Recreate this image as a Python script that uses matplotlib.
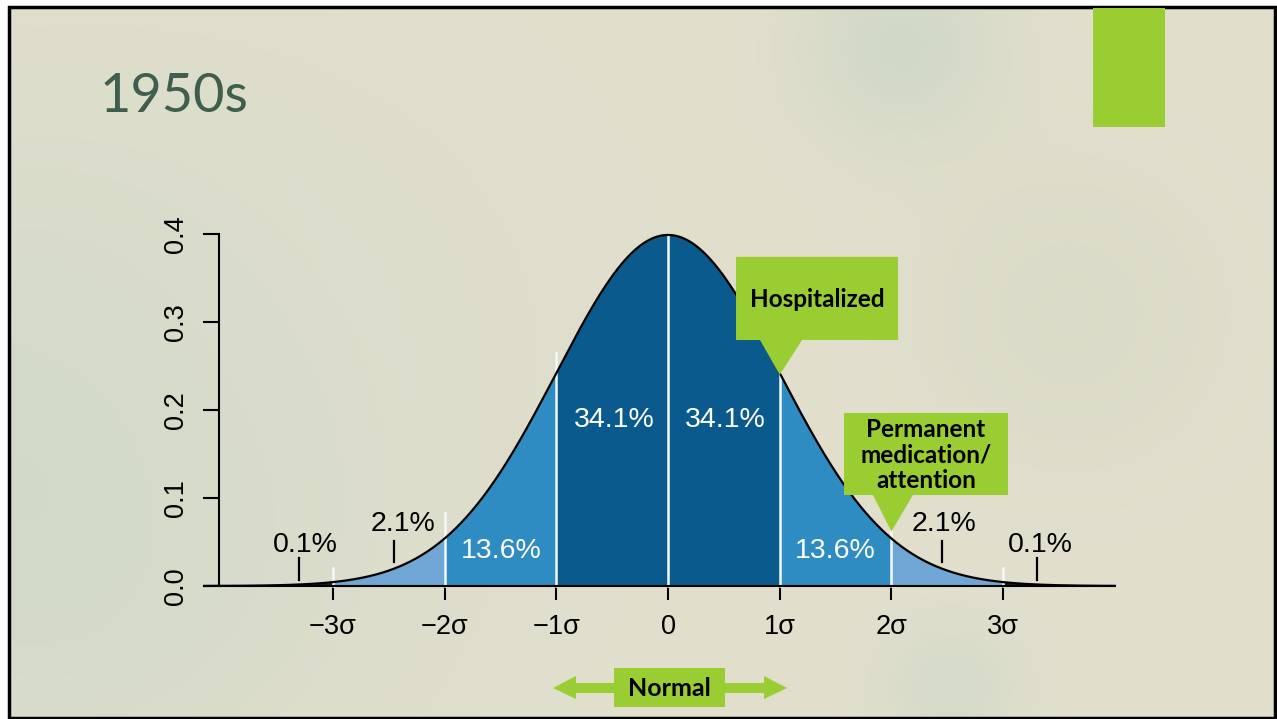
import numpy as np
import matplotlib.pyplot as plt
from matplotlib.patches import Polygon, Rectangle

W, H = 1277, 719

# standard normal chart: sigma ticks, bands and their shares
sigma_ticks = [-3, -2, -1, 0, 1, 2, 3]
sigma_labels = ["\u22123\u03c3", "\u22122\u03c3", "\u22121\u03c3", "0", "1\u03c3", "2\u03c3", "3\u03c3"]
y_ticks = [0.0, 0.1, 0.2, 0.3, 0.4]
y_labels = ["0.0", "0.1", "0.2", "0.3", "0.4"]
band_edges = [-4.15, -3, -2, -1, 0, 1, 2, 3, 4.0]
share_labels = ["0.1%", "2.1%", "13.6%", "34.1%", "34.1%", "13.6%", "2.1%", "0.1%"]
share_x = [-3.25, -2.37, -1.49, -0.48, 0.51, 1.50, 2.47, 3.33]
share_y = [0.047, 0.071, 0.040, 0.189, 0.189, 0.040, 0.071, 0.047]
pointer_x = [-3.3, -2.45, 2.45, 3.3]
pointer_lo = [0.007, 0.027, 0.027, 0.007]
pointer_hi = [0.032, 0.051, 0.051, 0.032]
divider_top = [0.020, 0.083, 0.265, 0.399, 0.265, 0.083, 0.020]

band_colors = ["#1c1c1c", "#6fa6d4", "#2e8cc2", "#0b5a8e",
               "#0b5a8e", "#2e8cc2", "#6fa6d4", "#1c1c1c"]
share_colors = ["black", "black", "white", "white", "white", "white", "black", "black"]
GREEN = "#9acd32"
SANS = ["Liberation Sans", "DejaVu Sans"]
HEAD = ["Lato", "DejaVu Sans"]


def pdf(x):
    return np.exp(-0.5 * x ** 2) / np.sqrt(2 * np.pi)


fig = plt.figure(figsize=(W / 100, H / 100), dpi=100)
fig.patch.set_facecolor("white")

# slide background with soft greenish blotches
bg = fig.add_axes([0, 0, 1, 1])
bg.set_xlim(0, W)
bg.set_ylim(H, 0)
bg.axis("off")
yy, xx = np.mgrid[0:H, 0:W]
img = np.ones((H, W, 3)) * np.array([226, 223, 205]) / 255.0
blobs = [(40, 470, 240, (208, 217, 199), 0.9),
         (900, 40, 70, (205, 215, 197), 0.8),
         (1070, 310, 120, (214, 217, 198), 0.6),
         (950, 690, 50, (208, 217, 200), 0.7),
         (330, 300, 200, (220, 221, 205), 0.5)]
for cx, cy, r, col, a in blobs:
    w = a * np.exp(-((xx - cx) ** 2 + (yy - cy) ** 2) / (2 * r ** 2))
    img = img * (1 - w[..., None]) + np.array(col)[None, None, :] / 255.0 * w[..., None]
bg.imshow(img, extent=(9, 1275, 718, 7), aspect="auto", zorder=0)
bg.add_patch(Rectangle((9, 7), 1266, 711, fill=False, ec="black", lw=2.5, zorder=1))
bg.add_patch(Rectangle((1093, 8), 72, 119, fc=GREEN, ec="none", zorder=2))
bg.text(100, 96, "1950s", color="#3e5f4d", fontsize=39, family=HEAD,
        fontweight="normal", va="center", ha="left")

# "Normal" range marker under the axis
bg.add_patch(Polygon([(553, 688), (576, 676), (576, 683), (614, 683), (614, 693),
                      (576, 693), (576, 699)], fc=GREEN, ec="none"))
bg.add_patch(Polygon([(787, 688), (764, 676), (764, 683), (725, 683), (725, 693),
                      (764, 693), (764, 699)], fc=GREEN, ec="none"))
bg.add_patch(Rectangle((614, 668), 111, 39, fc=GREEN, ec="none"))
bg.text(669.5, 688, "Normal", fontsize=18, fontweight="bold", family=HEAD,
        ha="center", va="center")

# density chart
ax = fig.add_axes([154.2 / W, (H - 647.6) / H, 1027.6 / W, 440 / H])
ax.set_facecolor("none")
ax.set_xlim(-4.6, 4.6)
ax.set_ylim(-0.07, 0.43)

for i in range(len(band_edges) - 1):
    xs = np.linspace(band_edges[i], band_edges[i + 1], 200)
    ax.fill_between(xs, 0, pdf(xs), color=band_colors[i], lw=0, zorder=1)

for x, top in zip(sigma_ticks, divider_top):
    ax.plot([x, x], [0, top], color="#f6f9fb", lw=1.8, zorder=2)

xs = np.linspace(band_edges[0], band_edges[-1], 800)
ax.plot(xs, pdf(xs), color="black", lw=1.6, zorder=3)

for x, lo, hi in zip(pointer_x, pointer_lo, pointer_hi):
    ax.plot([x, x], [lo, hi], color="black", lw=1.6, zorder=3)

for lab, x, y, c in zip(share_labels, share_x, share_y, share_colors):
    ax.text(x, y, lab, color=c, fontsize=20.5, family=SANS, ha="center", va="center", zorder=4)

for side in ["top", "right"]:
    ax.spines[side].set_visible(False)
ax.spines["left"].set_position(("data", -4.02))
ax.spines["left"].set_bounds(0, 0.4)
ax.spines["bottom"].set_position(("data", 0))
ax.spines["bottom"].set_bounds(band_edges[0], band_edges[-1])
for s in ["left", "bottom"]:
    ax.spines[s].set_linewidth(1.5)
    ax.spines[s].set_zorder(3)

ax.set_xticks(sigma_ticks)
ax.set_xticklabels(sigma_labels, family=SANS, fontsize=19.5)
ax.set_yticks(y_ticks)
ax.set_yticklabels(y_labels, family=SANS, fontsize=19.5, rotation=90, va="center")
ax.tick_params(axis="x", length=10, width=1.5, pad=10)
ax.tick_params(axis="y", length=11.5, width=1.5, pad=10)

# green callouts pointing at the curve
hosp = [(0.609, 0.374), (2.06, 0.374), (2.06, 0.2795), (1.20, 0.2795),
        (1.0, 0.240), (0.824, 0.2795), (0.609, 0.2795)]
ax.add_patch(Polygon(hosp, fc=GREEN, ec="none", zorder=5))
ax.text(1.335, 0.326, "Hospitalized", fontsize=17.5, fontweight="bold",
        family=HEAD, ha="center", va="center", zorder=6)

perm = [(1.576, 0.1966), (3.044, 0.1966), (3.044, 0.1034), (2.193, 0.1034),
        (2.0, 0.062), (1.835, 0.1034), (1.576, 0.1034)]
ax.add_patch(Polygon(perm, fc=GREEN, ec="none", zorder=5))
ax.text(2.31, 0.149, "Permanent\nmedication/\nattention", fontsize=17.5, fontweight="bold",
        family=HEAD, ha="center", va="center", linespacing=1.15, zorder=6)

fig.savefig("out.png", dpi=100)
